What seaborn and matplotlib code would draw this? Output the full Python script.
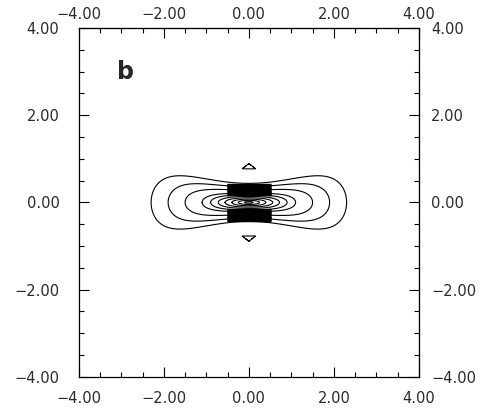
import numpy as np
import matplotlib
matplotlib.use("Agg")
import matplotlib.pyplot as plt
import seaborn as sns

# contour levels (x-extent of each closed curve on y=0)
lobe_levels = [1.5, 1.9, 2.3]
core_levels = [0.1, 0.25, 0.4, 0.56, 0.72, 0.9, 1.1]
# pinched y-scale of the field: b(x) = b0 * (1 + c x^2)
b0, c = 0.19, 0.37
# dense band of lines above and below the core
band_y = [0.16, 0.42]
band_halfwidth = 0.52
band_count = 20
# the two small triangles
tri_y, tri_w, tri_h = 0.83, 0.16, 0.12

ticks = [-4, -2, 0, 2, 4]
tick_labels = ["\u22124.00", "\u22122.00", "0.00", "2.00", "4.00"]
panel_label = "b"

sns.set_style("ticks")
plt.rcParams["font.family"] = ["DejaVu Sans"]

x = np.linspace(-4, 4, 1201)
X, Y = np.meshgrid(x, x)
D = np.sqrt(X**2 + (Y / (b0 * (1 + c * X**2)))**2)

fig = plt.figure(figsize=(4.87, 4.11), dpi=100)
ax = fig.add_axes([0.162, 0.083, 0.698, 0.849])

ax.contour(X, Y, D, levels=core_levels + lobe_levels, colors="black", linewidths=0.8)

# band of closely packed lines
H = np.ma.masked_where(np.abs(X) > band_halfwidth, np.abs(Y))
ax.contour(X, Y, H, levels=np.linspace(band_y[0], band_y[1], band_count),
           colors="black", linewidths=1.0)

# small triangles at (0, +/-tri_y)
yy = np.abs(Y) - tri_y
T = np.maximum(-yy / (tri_h / 2), np.abs(X) / tri_w + (yy + tri_h / 2) / tri_h)
ax.contour(X, Y, T, levels=[1.0], colors="black", linewidths=0.8)

ax.text(-3.1, 2.83, panel_label, fontsize=17, fontweight="bold", ha="left", va="baseline")

ax.set_xlim(-4, 4)
ax.set_ylim(-4, 4)
minor = np.arange(-4, 4.01, 0.5)
txt = "#2a2a2a"

ax.set_xticks(ticks, tick_labels)
ax.set_yticks(ticks, tick_labels)
ax.set_xticks(minor, minor=True)
ax.set_yticks(minor, minor=True)
ax.tick_params(which="both", direction="in", width=0.8, colors="black", labelcolor=txt)
ax.tick_params(which="major", length=7, labelsize=10.5)
ax.tick_params(which="minor", length=3.5)
ax.tick_params(axis="x", which="major", pad=10)
ax.tick_params(axis="y", which="major", pad=14)

top = ax.secondary_xaxis("top")
top.set_xticks(ticks, tick_labels)
top.set_xticks(minor, minor=True)
right = ax.secondary_yaxis("right")
right.set_yticks(ticks, tick_labels)
right.set_yticks(minor, minor=True)
for sec in (top, right):
    sec.tick_params(which="both", direction="in", width=0.8, colors="black", labelcolor=txt)
    sec.tick_params(which="major", length=7, labelsize=10.5, pad=4.5 if sec is top else 9)
    sec.tick_params(which="minor", length=3.5)

for s in ax.spines.values():
    s.set_linewidth(0.9)
    s.set_color("black")

fig.savefig("out.png", dpi=100, facecolor="white")
